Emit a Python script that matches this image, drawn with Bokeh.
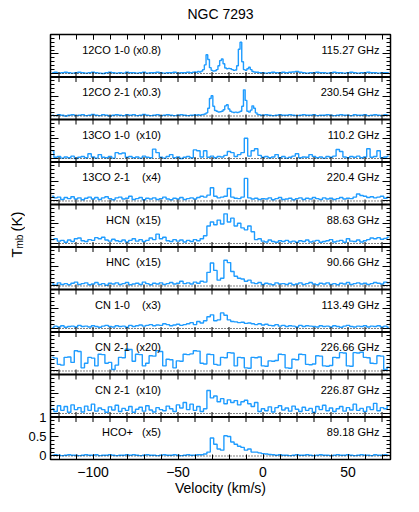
import numpy as np
from bokeh.plotting import figure
from bokeh.models import Range1d, LinearAxis, FixedTicker, CustomJSTickFormatter, Span
from bokeh.layouts import row
from bokeh.core.properties import value
from bokeh.embed import file_html
from bokeh.resources import INLINE

# channel centres (km/s): 2 km/s channels, and 1 km/s channels over -41..-1 for the 12CO lines
vel_coarse = np.arange(-124, 76, 2)
vel_fine = np.concatenate([np.arange(-124, -41, 2), np.arange(-41, 0, 1), np.arange(0, 76, 2)])

co10 = [
    0.02, 0.03, 0.01, 0.02, 0.03, 0.02, 0.01, 0.02, 0.03, 0.02,
    0.01, 0.02, 0.03, 0.02, 0.01, 0.00, 0.02, 0.03, 0.02, 0.01,
    0.02, 0.01, 0.03, 0.02, 0.02, 0.01, 0.02, 0.03, 0.01, 0.02,
    0.02, 0.03, 0.02, 0.01, 0.02, 0.02, 0.03, 0.01, 0.02, 0.02,
    0.03, 0.02,
    0.03, 0.04, 0.03, 0.05, 0.04, 0.06, 0.10, 0.22, 0.48, 0.36,
    0.15, 0.08, 0.06, 0.07, 0.10, 0.20, 0.33, 0.37, 0.25, 0.14,
    0.12, 0.13, 0.12, 0.10, 0.08, 0.09, 0.20, 0.62, 0.80, 0.30,
    0.10, 0.08, 0.12, 0.16, 0.10, 0.05, 0.04, 0.03, 0.03, 0.02,
    0.02,
    0.02, 0.01, 0.02, 0.03, 0.02, 0.02, 0.03, 0.02,
    0.03, 0.04, 0.05, 0.03, 0.02, 0.01, 0.02, 0.02, 0.03, 0.02,
    0.02, 0.01, 0.02, 0.03, 0.02, 0.02, 0.01, 0.02, 0.03, 0.02,
    0.01, 0.02, 0.02, 0.03, 0.02, 0.02, 0.01, 0.02, 0.02, 0.02]

co21 = [
    0.02, 0.01, 0.03, 0.02, 0.00, 0.02, 0.03, 0.01, 0.02, 0.03,
    0.01, 0.02, 0.04, 0.02, 0.01, 0.03, 0.02, 0.00, 0.02, 0.03,
    0.02, 0.01, 0.03, 0.02, 0.03, 0.01, 0.02, 0.04, 0.02, 0.01,
    0.02, 0.03, 0.01, 0.02, 0.03, 0.02, 0.01, 0.02, 0.03, 0.02,
    0.01, 0.02,
    0.02, 0.03, 0.02, 0.03, 0.02, 0.03, 0.04, 0.05, 0.08, 0.20,
    0.45, 0.52, 0.25, 0.14, 0.12, 0.10, 0.11, 0.12, 0.16, 0.26,
    0.29, 0.18, 0.12, 0.10, 0.09, 0.10, 0.09, 0.10, 0.12, 0.25,
    0.67, 0.40, 0.12, 0.10, 0.15, 0.26, 0.20, 0.08, 0.04, 0.03,
    0.02,
    0.02, 0.03, 0.02, 0.01, 0.02, 0.03, 0.02, 0.02,
    0.03, 0.02, 0.01, 0.02, 0.03, 0.02, 0.02, 0.03, 0.01, 0.02,
    0.02, 0.03, 0.02, 0.01, 0.02, 0.03, 0.02, 0.02, 0.01, 0.03,
    0.02, 0.02, 0.03, 0.01, 0.02, 0.03, 0.02, 0.01, 0.03, 0.02]

co13_10 = [
    0.20, 0.03, 0.05, 0.01, 0.04, 0.02, 0.06, 0.00, 0.03, 0.05,
    0.02, 0.12, 0.04, 0.01, 0.10, 0.03, 0.02, 0.05, 0.01, 0.15,
    0.12, 0.14, 0.03, 0.05, 0.02, 0.04, 0.01, 0.06, 0.03, 0.02,
    0.24, 0.15, 0.03, 0.01, 0.05, 0.10, 0.02, 0.04, 0.00, 0.03,
    0.05, 0.02, 0.22, 0.20, 0.04, 0.20, 0.03, 0.06, 0.02, 0.05,
    0.04, 0.08, 0.18, 0.15, 0.05, 0.10, 0.15, 0.52, 0.06, 0.20,
    0.25, 0.08, 0.03, 0.05, 0.02, 0.04, 0.10, 0.02, 0.05, 0.01,
    0.03, 0.06, 0.12, 0.02, 0.04, 0.03, 0.10, 0.05, 0.02, 0.04,
    0.01, 0.05, 0.03, 0.06, 0.23, 0.18, 0.04, 0.02, 0.05, 0.03,
    0.06, 0.02, 0.04, 0.25, 0.03, 0.05, 0.20, 0.02, 0.04, 0.06]

co13_21 = [
    0.12, 0.08, 0.10, 0.04, 0.09, 0.06, 0.11, 0.05, 0.08, 0.03,
    0.07, 0.10, 0.05, 0.09, 0.04, 0.08, 0.11, 0.06, 0.03, 0.08,
    0.10, 0.05, 0.07, 0.12, 0.04, 0.06, 0.09, 0.03, 0.07, 0.05,
    0.08, 0.04, 0.06, 0.10, 0.05, 0.03, 0.07, 0.05, 0.09, 0.04,
    0.06, 0.08, 0.05, 0.09, 0.12, 0.10, 0.15, 0.34, 0.12, 0.08,
    0.10, 0.12, 0.32, 0.10, 0.07, 0.06, 0.10, 0.58, 0.08, 0.05,
    0.07, 0.04, 0.06, 0.05, 0.08, 0.03, 0.06, 0.09, 0.04, 0.05,
    0.07, 0.03, 0.06, 0.08, 0.04, 0.07, 0.05, 0.09, 0.06, 0.04,
    0.08, 0.05, 0.07, 0.04, 0.06, 0.09, 0.05, 0.07, 0.06, 0.10,
    0.18, 0.14, 0.12, 0.09, 0.11, 0.08, 0.10, 0.12, 0.07, 0.10]

hcn = [
    0.10, 0.12, 0.06, 0.08, 0.03, 0.09, 0.05, 0.12, 0.14, 0.07,
    0.05, 0.10, 0.08, 0.15, 0.12, 0.16, 0.09, 0.06, 0.11, 0.07,
    0.05, 0.09, 0.04, 0.08, 0.12, 0.06, 0.10, 0.05, 0.08, 0.14,
    0.10, 0.24, 0.12, 0.16, 0.07, 0.05, 0.10, 0.06, 0.09, 0.04,
    0.08, 0.05, 0.10, 0.07, 0.12, 0.20, 0.45, 0.55, 0.48, 0.60,
    0.50, 0.76, 0.55, 0.65, 0.45, 0.52, 0.40, 0.35, 0.45, 0.30,
    0.10, 0.12, 0.06, 0.04, 0.09, 0.05, 0.03, 0.07, 0.05, 0.08,
    0.04, 0.06, 0.03, 0.07, 0.05, 0.09, 0.04, 0.06, 0.08, 0.03,
    0.05, 0.07, 0.10, 0.04, 0.06, 0.08, 0.03, 0.12, 0.06, 0.05,
    0.09, 0.04, 0.07, 0.10, 0.14, 0.12, 0.15, 0.11, 0.13, 0.16]

hnc = [
    0.05, 0.02, 0.08, 0.04, 0.06, 0.03, 0.07, 0.10, 0.04, 0.06,
    0.08, 0.03, 0.05, 0.09, 0.04, 0.06, 0.02, 0.07, 0.05, 0.08,
    0.04, 0.06, 0.09, 0.03, 0.05, 0.07, 0.04, 0.10, 0.06, 0.03,
    0.07, 0.05, 0.08, 0.04, 0.06, 0.09, 0.05, 0.07, 0.12, 0.06,
    0.08, 0.05, 0.10, 0.07, 0.12, 0.10, 0.35, 0.59, 0.40, 0.15,
    0.20, 0.66, 0.60, 0.37, 0.25, 0.20, 0.18, 0.12, 0.15, 0.08,
    0.06, 0.09, 0.04, 0.07, 0.05, 0.03, 0.08, 0.05, 0.06, 0.04,
    0.07, 0.03, 0.05, 0.08, 0.04, 0.06, 0.09, 0.05, 0.03, 0.07,
    0.05, 0.08, 0.04, 0.06, 0.03, 0.07, 0.05, 0.09, 0.04, 0.06,
    0.08, 0.05, 0.07, 0.04, 0.06, 0.09, 0.07, 0.05, 0.10, 0.08]

cn10 = [
    0.02, 0.06, 0.04, 0.07, 0.03, 0.05, 0.06, 0.04, 0.08, 0.05,
    0.06, 0.04, 0.07, 0.05, 0.03, 0.06, 0.08, 0.05, 0.04, 0.07,
    0.05, 0.06, 0.03, 0.08, 0.05, 0.07, 0.09, 0.06, 0.08, 0.10,
    0.07, 0.09, 0.08, 0.12, 0.10, 0.07, 0.09, 0.11, 0.08, 0.10,
    0.12, 0.15, 0.10, 0.18, 0.14, 0.20, 0.30, 0.35, 0.20, 0.22,
    0.40, 0.34, 0.22, 0.18, 0.17, 0.15, 0.16, 0.13, 0.14, 0.12,
    0.10, 0.12, 0.09, 0.11, 0.08, 0.07, 0.10, 0.06, 0.08, 0.05,
    0.07, 0.06, 0.04, 0.08, 0.05, 0.07, 0.06, 0.05, 0.04, 0.07,
    0.05, 0.06, 0.04, 0.07, 0.05, 0.03, 0.06, 0.08, 0.05, 0.04,
    0.06, 0.05, 0.07, 0.04, 0.06, 0.05, 0.07, 0.04, 0.06, 0.03]

cn21_a = [
    0.35, 0.33, 0.17, 0.15, 0.35, 0.36, 0.22, 0.52, 0.50, 0.08,
    0.20, 0.35, 0.33, 0.13, 0.43, 0.42, 0.20, 0.22, 0.04, 0.15,
    0.35, 0.34, 0.56, 0.55, 0.25, 0.43, 0.42, 0.13, 0.20, 0.39,
    0.38, 0.52, 0.50, 0.13, 0.30, 0.29, 0.08, 0.26, 0.25, 0.43,
    0.42, 0.44, 0.52, 0.51, 0.20, 0.18, 0.43, 0.42, 0.17, 0.15,
    0.35, 0.34, 0.47, 0.46, 0.13, 0.35, 0.34, 0.08, 0.07, 0.35,
    0.34, 0.36, 0.13, 0.12, 0.26, 0.25, 0.27, 0.43, 0.42, 0.08,
    0.07, 0.30, 0.29, 0.43, 0.42, 0.17, 0.16, 0.18, 0.39, 0.38,
    0.13, 0.12, 0.14, 0.35, 0.34, 0.47, 0.46, 0.13, 0.12, 0.47,
    0.46, 0.48, 0.35, 0.34, 0.20, 0.19, 0.39, 0.38, 0.04, 0.10]

cn21_b = [
    0.12, 0.05, 0.20, 0.08, 0.18, 0.03, 0.22, 0.10, 0.15, 0.04,
    0.19, 0.08, 0.24, 0.06, 0.14, 0.10, 0.03, 0.17, 0.09, 0.21,
    0.05, 0.13, 0.08, 0.18, 0.03, 0.11, 0.16, 0.06, 0.20, 0.09,
    0.04, 0.15, 0.10, 0.07, 0.19, 0.12, 0.05, 0.22, 0.14, 0.28,
    0.10, 0.24, 0.08, 0.18, 0.05, 0.12, 0.59, 0.40, 0.45, 0.30,
    0.38, 0.25, 0.35, 0.28, 0.33, 0.22, 0.30, 0.34, 0.25, 0.18,
    0.28, 0.05, 0.12, 0.07, 0.17, 0.04, 0.15, 0.20, 0.09, 0.14,
    0.06, 0.19, 0.11, 0.05, 0.16, 0.08, 0.13, 0.03, 0.18, 0.10,
    0.21, 0.07, 0.14, 0.05, 0.12, 0.18, 0.06, 0.15, 0.09, 0.24,
    0.08, 0.13, 0.05, 0.17, 0.10, 0.26, 0.07, 0.15, 0.12, 0.20]

hcop = [
    0.02, 0.03, 0.02, 0.01, 0.02, 0.03, 0.02, 0.02, 0.01, 0.02,
    0.03, 0.02, 0.02, 0.03, 0.01, 0.02, 0.02, 0.03, 0.02, 0.01,
    0.02, 0.02, 0.03, 0.02, 0.03, 0.02, 0.01, 0.02, 0.03, 0.02,
    0.02, 0.01, 0.02, 0.03, 0.02, 0.02, 0.03, 0.02, 0.01, 0.02,
    0.03, 0.02, 0.02, 0.03, 0.03, 0.05, 0.10, 0.46, 0.30, 0.18,
    0.15, 0.52, 0.50, 0.36, 0.30, 0.25, 0.22, 0.15, 0.18, 0.10,
    0.10, 0.08, 0.06, 0.05, 0.04, 0.03, 0.02, 0.03, 0.02, 0.02,
    0.01, 0.02, 0.03, 0.02, 0.02, 0.03, 0.02, 0.01, 0.02, 0.03,
    0.02, 0.02, 0.01, 0.02, 0.03, 0.02, 0.02, 0.03, 0.02, 0.01,
    0.02, 0.03, 0.02, 0.02, 0.01, 0.03, 0.02, 0.02, 0.03, 0.02]

spectra = [co10, co21, co13_10, co13_21, hcn, hnc, cn10, cn21_a, cn21_b, hcop]
spectra_vel = [vel_fine, vel_fine] + [vel_coarse] * 8

NB = "\u00a0"
line_names = ["12CO 1-0 (x0.8)", "12CO 2-1 (x0.3)", "13CO 1-0" + NB * 2 + "(x10)",
              "13CO 2-1" + NB * 4 + "(x4)", "HCN" + NB * 2 + "(x15)", "HNC" + NB * 2 + "(x15)",
              "CN 1-0" + NB * 4 + "(x3)", "CN 2-1" + NB * 2 + "(x20)", "CN 2-1" + NB * 2 + "(x10)",
              "HCO+" + NB * 3 + "(x5)"]
line_freqs = ["115.27 GHz", "230.54 GHz", "110.2 GHz", "220.4 GHz", "88.63 GHz",
              "90.66 GHz", "113.49 GHz", "226.66 GHz", "226.87 GHz", "89.18 GHz"]

x_tick_major = [-100, -50, 0, 50]
x_tick_minor = list(range(-120, 80, 10))
y_tick_major = [0.0, 0.5, 1.0]
y_tick_minor = [0.1, 0.2, 0.3, 0.4, 0.6, 0.7, 0.8, 0.9]

FONT = "Liberation Sans"
BLUE = "#1f9cff"
Y_LO, Y_HI = -0.09, 1.0
PANEL = Y_HI - Y_LO
N = len(spectra)
offsets = [(N - 1 - j) * PANEL for j in range(N)]

p = figure(frame_width=340, frame_height=425, title="NGC 7293",
           x_range=Range1d(-125, 75), y_range=Range1d(Y_LO, Y_LO + N * PANEL),
           x_axis_type=None, y_axis_type=None,
           output_backend="svg", toolbar_location=None,
           min_border_left=23, min_border_right=6, min_border_top=34, min_border_bottom=0,
           outline_line_color="black", outline_line_width=1.5,
           background_fill_color="white", border_fill_color="white")
p.title.align = "center"
p.title.offset = 13
p.title.standoff = 6
p.title.text_font = FONT
p.title.text_font_size = "14px"
p.title.text_font_style = "normal"
p.title.text_color = "black"

p.extra_y_ranges = {f"p{j}": Range1d(Y_LO - off, Y_LO - off + N * PANEL)
                    for j, off in enumerate(offsets)}

x_ticker = FixedTicker(ticks=x_tick_major, minor_ticks=x_tick_minor)
y_ticker = FixedTicker(ticks=[off + t for off in offsets for t in y_tick_major],
                       minor_ticks=[off + t for off in offsets for t in y_tick_minor])
x_fmt = CustomJSTickFormatter(code="return tick < 0 ? '\u2212' + (-tick) : '' + tick;")
y_fmt = CustomJSTickFormatter(code="if (tick > 1.05) { return ''; } return '' + (Math.round(tick * 10) / 10);")
blank_fmt = CustomJSTickFormatter(code="return '';")


def style_axis(ax, tick_major, tick_minor, standoff, size="14px"):
    ax.axis_line_color = "black"
    ax.major_tick_in = tick_major
    ax.major_tick_out = 0
    ax.minor_tick_in = tick_minor
    ax.minor_tick_out = 0
    ax.major_tick_line_color = "black"
    ax.minor_tick_line_color = "black"
    ax.major_label_text_font_size = size
    ax.major_label_text_font = FONT
    ax.major_label_text_color = "black"
    ax.major_label_standoff = standoff


xb = LinearAxis(ticker=x_ticker, formatter=x_fmt)
style_axis(xb, 5, 5, 7)
xb.axis_label = "Velocity (km/s)"
xb.axis_label_text_font = FONT
xb.axis_label_text_font_size = "14px"
xb.axis_label_text_font_style = "normal"
xb.axis_label_text_color = "black"
xb.axis_label_standoff = 0
p.add_layout(xb, "below")

xa = LinearAxis(ticker=x_ticker, formatter=blank_fmt)
style_axis(xa, 5, 5, 0)
p.add_layout(xa, "above")

# invisible spacer between the top axis and the title
spacer = LinearAxis(ticker=x_ticker, formatter=blank_fmt, axis_line_color=None,
                    major_tick_line_color=None, minor_tick_line_color=None,
                    major_tick_in=0, major_tick_out=10, minor_tick_in=0, minor_tick_out=0,
                    major_label_standoff=0)
p.add_layout(spacer, "above")

yl = LinearAxis(ticker=y_ticker, formatter=y_fmt)
style_axis(yl, 8, 4, 4, "13px")
p.add_layout(yl, "left")

yr = LinearAxis(ticker=y_ticker, formatter=blank_fmt)
style_axis(yr, 8, 4, 0)
p.add_layout(yr, "right")

for j in range(N):
    rn = f"p{j}"
    p.add_layout(Span(location=0, dimension="width", line_color="black",
                      line_dash="1 2", line_width=1, y_range_name=rn))
    p.step(spectra_vel[j], spectra[j], mode="center", line_color=BLUE, line_width=1.4,
           y_range_name=rn)
    p.text(x=[-60], y=[0.61], text=[line_names[j]], text_align="right",
           text_baseline="middle", text_font=value(FONT), text_font_size="11px",
           text_color="black", y_range_name=rn)
    p.text(x=[68.5], y=[0.61], text=[line_freqs[j]], text_align="right",
           text_baseline="middle", text_font=value(FONT), text_font_size="11px",
           text_color="black", y_range_name=rn)
    if j < N - 1:
        p.add_layout(Span(location=Y_LO, dimension="width", line_color="black",
                          line_width=2, y_range_name=rn))
        p.scatter(x=x_tick_minor, y=[Y_LO] * len(x_tick_minor), marker="dash",
                  angle=np.pi / 2, size=10, line_color="black", line_width=1,
                  y_range_name=rn)

# narrow strip holding the rotated y-axis title  T_mb (K)  (pixel coordinates)
H = 425
W = 25
lab = figure(frame_width=W, frame_height=H, x_range=Range1d(0, W), y_range=Range1d(0, H),
             x_axis_type=None, y_axis_type=None, output_backend="svg", toolbar_location=None,
             min_border=0, outline_line_color=None,
             background_fill_color="white", border_fill_color="white")
lab.text(x=[16], y=[202], text=["T"], angle=np.pi / 2, text_align="left",
         text_baseline="alphabetic", text_font=value(FONT), text_font_size="15px",
         text_color="black")
lab.text(x=[19], y=[211], text=["mb"], angle=np.pi / 2, text_align="left",
         text_baseline="alphabetic", text_font=value(FONT), text_font_size="10px",
         text_color="black")
lab.text(x=[16], y=[228], text=["(K)"], angle=np.pi / 2, text_align="left",
         text_baseline="alphabetic", text_font=value(FONT), text_font_size="15px",
         text_color="black")

layout = row(lab, p)
open("out.html", "w").write(file_html(layout, INLINE))
